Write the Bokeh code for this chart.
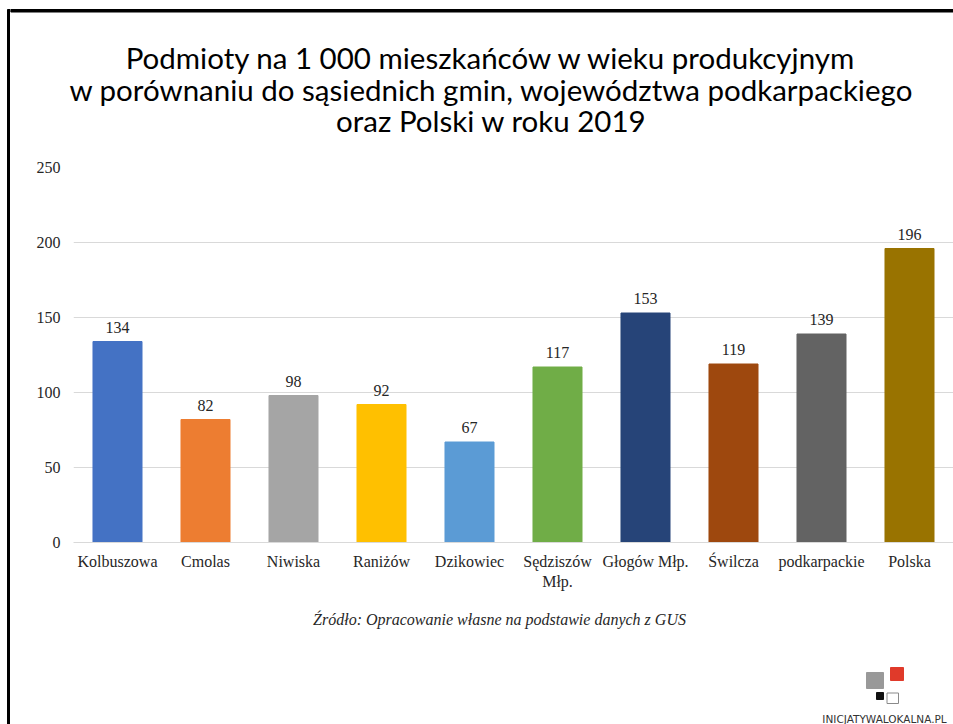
from bokeh.plotting import figure
from bokeh.layouts import column, row
from bokeh.models import Range1d, FixedTicker, ColumnDataSource, LabelSet
from bokeh.embed import file_html
from bokeh.resources import INLINE
from bokeh.core.properties import value

categories = ["Kolbuszowa", "Cmolas", "Niwiska", "Raniżów", "Dzikowiec",
              "Sędziszów\nMłp.", "Głogów Młp.", "Świlcza", "podkarpackie", "Polska"]
values = [134, 82, 98, 92, 67, 117, 153, 119, 139, 196]
colors = ["#4472C4", "#ED7D31", "#A5A5A5", "#FFC000", "#5B9BD5",
          "#70AD47", "#264478", "#9E480E", "#636363", "#997300"]
y_ticks = [0, 50, 100, 150, 200, 250]
title_lines = ["Podmioty na 1 000 mieszkańców w wieku produkcyjnym",
               "w porównaniu do sąsiednich gmin, województwa podkarpackiego",
               "oraz Polski w roku 2019"]
source_text = "Źródło: Opracowanie własne na podstawie danych z GUS"
logo_text = "INICJATYWALOKALNA.PL"

SW = 10           # width of the left strip holding the frame border
CW = 943          # content width
HH, MH, FH = 158, 442, 124   # header, main, footer heights
TOTAL_H = HH + MH + FH


def no_align(f):
    try:
        f.frame_align = False
    except Exception:
        pass
    return f


def canvas_fig(w, h):
    f = figure(width=w, height=h, output_backend="svg", toolbar_location=None,
               x_range=Range1d(0, w), y_range=Range1d(h, 0),
               x_axis_location=None, y_axis_location=None,
               min_border=0, outline_line_color=None)
    f.grid.visible = False
    f.background_fill_color = "white"
    f.border_fill_color = "white"
    return no_align(f)


# left strip with the frame's left border
strip = canvas_fig(SW, TOTAL_H)
strip.quad(left=[7], right=[9.5], top=[9], bottom=[TOTAL_H], color="black")

# header: title + top border
header = canvas_fig(CW, HH)
header.quad(left=[0], right=[CW], top=[9], bottom=[11.5], color="black")
header.text(x=[481] * 3, y=[57, 88.5, 120], text=title_lines,
            text_align="center", text_baseline="alphabetic",
            text_font=value("Lato"), text_font_size=value("29.5px"), text_color="black")

# main chart
xs = [i + 0.5 for i in range(len(categories))]
p = figure(width=CW, height=MH, output_backend="svg", toolbar_location=None,
           x_range=Range1d(0, len(categories)), y_range=Range1d(0, 250),
           min_border_left=63, min_border_right=0, min_border_top=9, min_border_bottom=58)
no_align(p)
p.outline_line_color = None
p.background_fill_color = "white"
p.border_fill_color = "white"

src = ColumnDataSource(dict(x=xs, top=values, color=colors, lab=[str(v) for v in values]))
p.vbar(x="x", top="top", width=0.557, color="color", source=src)
p.add_layout(LabelSet(x="x", y="top", text="lab", source=src, y_offset=9,
                      text_align="center", text_baseline="alphabetic",
                      text_font=value("Liberation Serif"), text_font_size="16px",
                      text_color="#262626"))

p.xgrid.visible = False
p.ygrid.grid_line_color = "#d9d9d9"
p.ygrid.ticker = FixedTicker(ticks=y_ticks)

p.yaxis.ticker = FixedTicker(ticks=y_ticks)
p.yaxis.axis_line_color = None
p.yaxis.major_tick_line_color = None
p.yaxis.minor_tick_line_color = None
p.yaxis.major_tick_out = 0
p.yaxis.major_tick_in = 0
p.yaxis.minor_tick_out = 0
p.yaxis.major_label_standoff = 13
p.yaxis.major_label_text_font = "Liberation Serif"
p.yaxis.major_label_text_font_size = "16px"
p.yaxis.major_label_text_color = "#262626"

p.xaxis.ticker = FixedTicker(ticks=xs)
p.xaxis.major_label_overrides = {x: c for x, c in zip(xs, categories)}
p.xaxis.axis_line_color = "#d9d9d9"
p.xaxis.major_tick_line_color = None
p.xaxis.minor_tick_line_color = None
p.xaxis.major_tick_out = 0
p.xaxis.major_tick_in = 0
p.xaxis.minor_tick_out = 0
p.xaxis.major_label_standoff = 10
p.xaxis.major_label_text_font = "Liberation Serif"
p.xaxis.major_label_text_font_size = "16px"
p.xaxis.major_label_text_color = "#262626"

# footer: source + logo
footer = canvas_fig(CW, FH)
footer.text(x=[489], y=[19], text=[source_text], text_align="center", text_baseline="middle",
            text_font=value("Liberation Serif"), text_font_style="italic",
            text_font_size=value("16px"), text_color="#262626")
footer.quad(left=[856, 880, 866], right=[873, 893, 873], top=[72, 67, 92], bottom=[88, 80, 99],
            color=["#999999", "#E03A2A", "#111111"])
footer.quad(left=[876.5], right=[888], top=[92.5], bottom=[103], fill_color="white",
            line_color="#8a8a8a", line_width=1)
footer.text(x=[874], y=[118], text=[logo_text], text_align="center", text_baseline="middle",
            text_font=value("DejaVu Sans"), text_font_size=value("10.5px"), text_color="#333333")

layout = row(strip, column(header, p, footer, spacing=0), spacing=0)
open("out.html", "w").write(file_html(layout, INLINE))
